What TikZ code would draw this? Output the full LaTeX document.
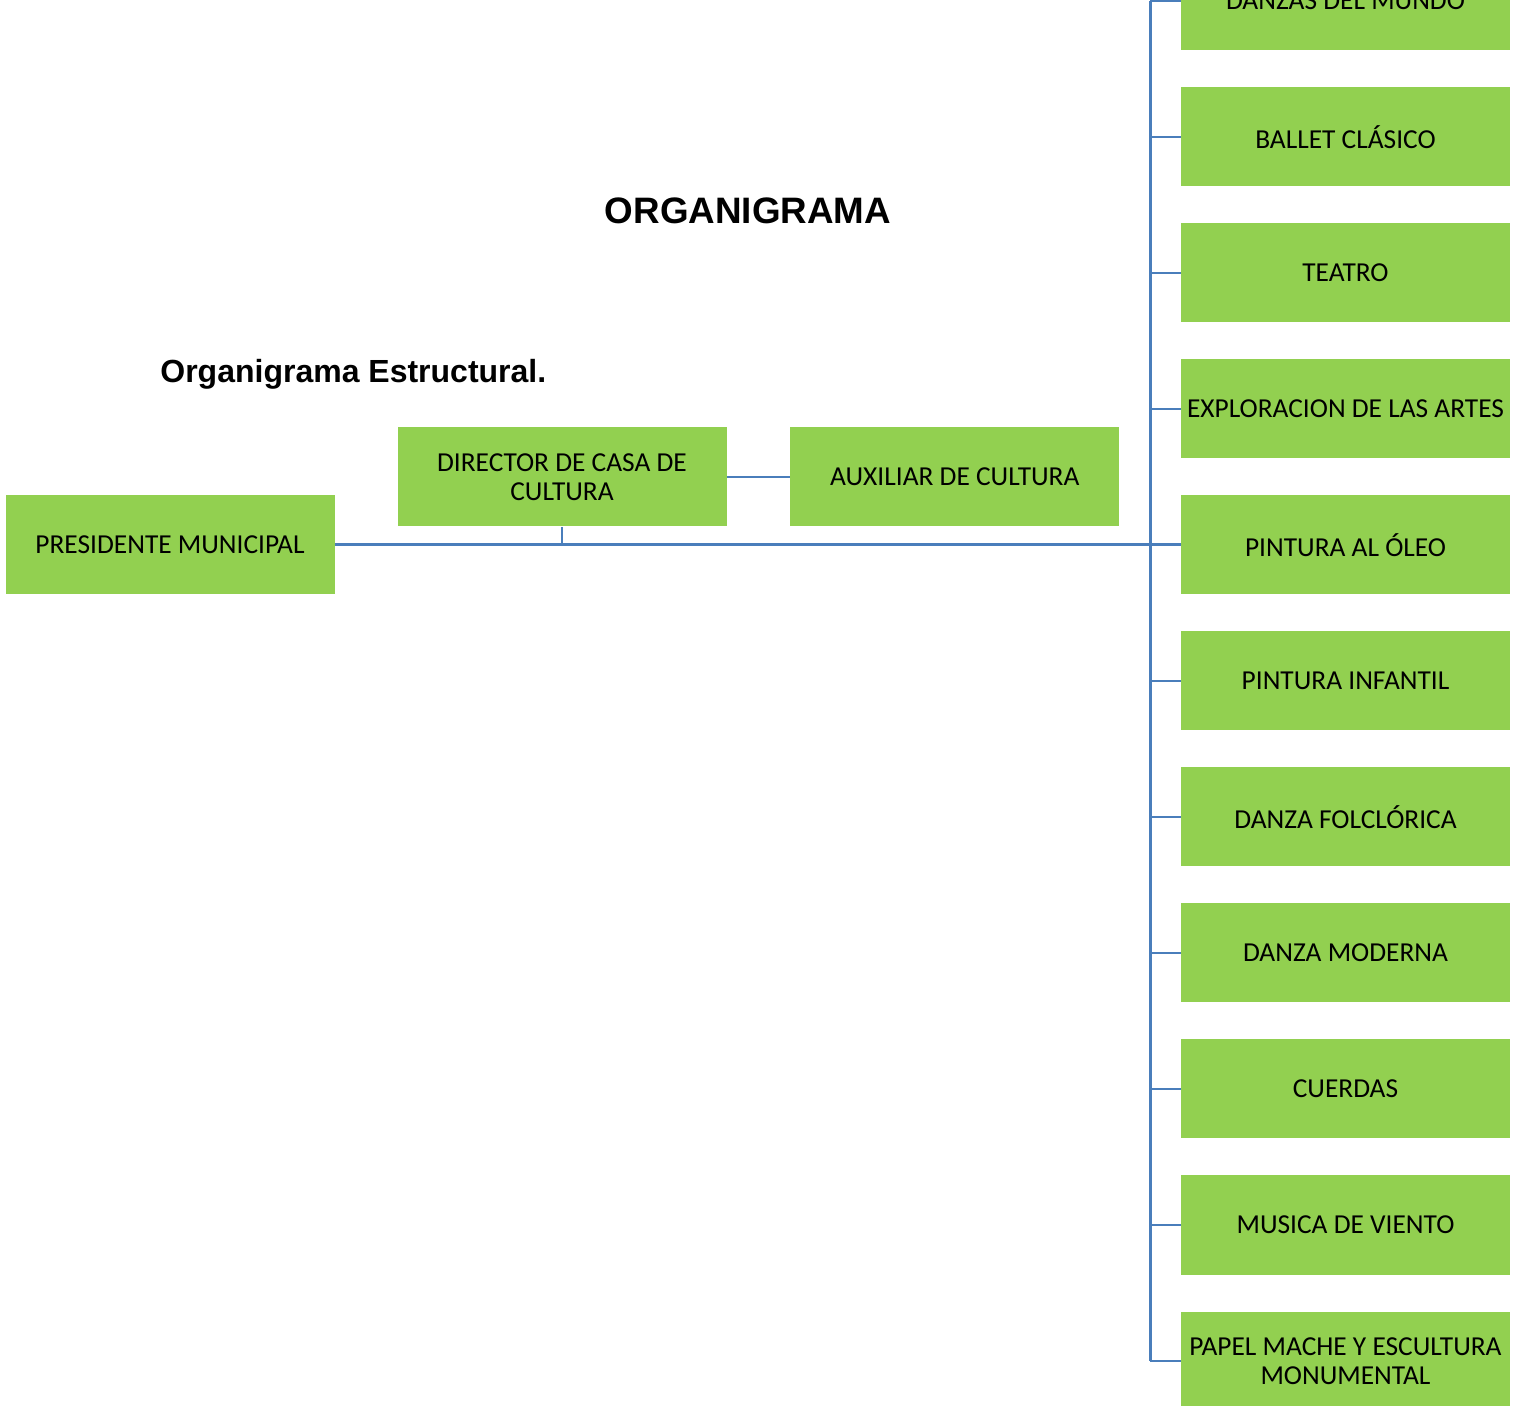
\documentclass[tikz,border=0pt]{standalone}
\usepackage{fontspec}
\setmainfont{Carlito}
\newfontfamily\arialfont{Liberation Sans}
\usetikzlibrary{positioning}
\definecolor{boxgreen}{HTML}{92D050}
\definecolor{linkblue}{HTML}{4A7EBB}

\tikzset{
  orgbox/.style={fill=boxgreen, minimum width=164.5pt, minimum height=49.5pt,
    inner sep=0pt, align=center, font=\fontsize{13.7}{14.6}\selectfont},
  link/.style={linkblue, line width=1.2pt},
  mainlink/.style={linkblue, line width=1.5pt}
}

\begin{document}
\begin{tikzpicture}[x=0.5pt,y=-0.5pt]
  \useasboundingbox (0,0) rectangle (1523,1406);
  \clip (0,0) rectangle (1523,1406);
  % Titles
  \node[font=\arialfont\bfseries\fontsize{18.4}{22}\selectfont] (title) at (748,211) {ORGANIGRAMA};
  \node[font=\arialfont\bfseries\fontsize{16}{19}\selectfont, anchor=base west, inner sep=0pt] (subtitle) at (160,383) {Organigrama Estructural.};
  % Main boxes
  \node[orgbox] (pres) at (170,545) {PRESIDENTE MUNICIPAL};
  \node[orgbox] (dir) at (562,477) {DIRECTOR DE CASA DE\\CULTURA};
  \node[orgbox, right=31.5pt of dir] (aux) {AUXILIAR DE CULTURA};
  % Workshops column
  \foreach \name/\txt [count=\i from 0] in {
      danzas/{DANZAS DEL MUNDO}, ballet/{BALLET CLÁSICO}, teatro/{TEATRO},
      explo/{EXPLORACION DE LAS ARTES}, oleo/{PINTURA AL ÓLEO},
      infantil/{PINTURA INFANTIL}, folclor/{DANZA FOLCLÓRICA},
      moderna/{DANZA MODERNA}, cuerdas/{CUERDAS}, viento/{MUSICA DE VIENTO},
      papel/{PAPEL MACHE Y ESCULTURA\\MONUMENTAL}}
    \node[orgbox] (\name) at (1345.5,1+136*\i) {\txt};
  % Connectors
  \coordinate (trunk) at (1150,545);
  \draw[mainlink] (pres.east) -- (oleo.west);
  \draw[mainlink] (trunk |- danzas.west) -- (trunk |- papel.west);
  \foreach \name in {danzas,ballet,teatro,explo,infantil,folclor,moderna,cuerdas,viento,papel}
    \draw[link] (trunk |- \name.west) -- (\name.west);
  \draw[link] (dir.south) -- (dir.south |- pres.east);
  \draw[link] (dir.east) -- (aux.west);
\end{tikzpicture}
\end{document}
